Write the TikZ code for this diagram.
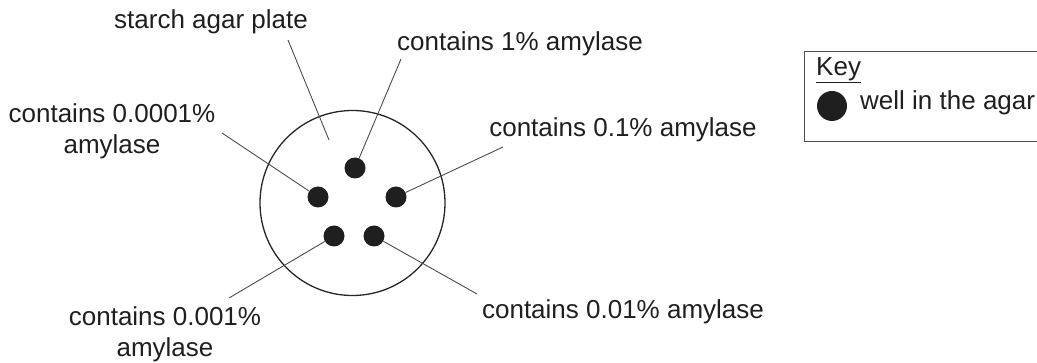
\documentclass[tikz,border=0pt]{standalone}
\usepackage{fontspec}
\setmainfont{Liberation Sans}
\begin{document}
\begin{tikzpicture}[x=1pt,y=-1pt,
  lbl/.style={inner sep=0pt,font=\fontsize{26}{31}\selectfont,text=black!88,align=center},
  well/.style={circle,fill=black!88,inner sep=0pt,minimum size=21pt},
  conn/.style={draw=black!70,line width=0.9pt}]
\useasboundingbox (0,0) rectangle (1037,363);
% plate
\node[circle,draw=black!85,line width=1.3pt,minimum size=185pt,inner sep=0pt] (plate) at (352.5,203) {};
% wells
\node[well] (w1) at (355,168) {};
\node[well] (w4) at (318,197) {};
\node[well] (w2) at (396,197) {};
\node[well] (w5) at (334,236) {};
\node[well] (w3) at (374,236) {};
% labels
\node[lbl] (lplate) at (211,22) {starch agar plate};
\node[lbl] (l1) at (520,44) {contains 1\% amylase};
\node[lbl] (l2) at (623,130) {contains 0.1\% amylase};
\node[lbl] (l4) at (112,131) {contains 0.0001\%\\amylase};
\node[lbl] (l5) at (165,334) {contains 0.001\%\\amylase};
\node[lbl] (l3) at (623,312) {contains 0.01\% amylase};
% connector ends
\coordinate (cplate) at (288,40);
\coordinate (pin) at (329,140);
\coordinate (c1) at (401,59);
\coordinate (c2) at (503,147);
\coordinate (c4) at (222,133);
\coordinate (c5) at (229,298);
\coordinate (c3) at (477,294);
\draw[conn] (cplate) -- (pin);
\draw[conn] (c1) -- (w1);
\draw[conn] (c2) -- (w2);
\draw[conn] (c4) -- (w4);
\draw[conn] (c5) -- (w5);
\draw[conn] (c3) -- (w3);
% key
\draw[draw=black!70,line width=1pt] (1038,52) -- (804,52) -- (804,142) -- (1038,142);
\node[lbl,anchor=west] (keyt) at (816,70) {\underline{Key}};
\node[well,minimum size=30pt] (kw) at (832,106) {};
\node[lbl,anchor=west] (kwt) at (860,103) {well in the agar};
\end{tikzpicture}
\end{document}
